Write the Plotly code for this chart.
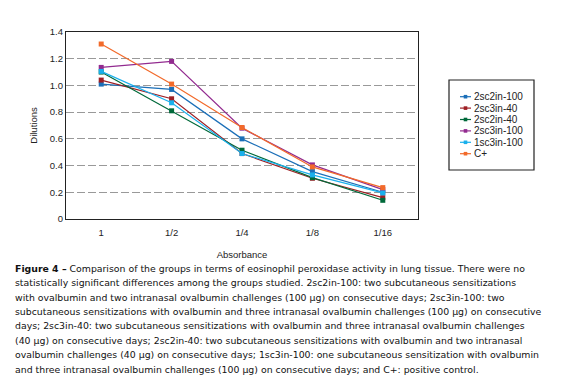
import plotly.graph_objects as go

categories = ["1", "1/2", "1/4", "1/8", "1/16"]
series_names = ["2sc2in-100", "2sc3in-40", "2sc2in-40", "2sc3in-100", "1sc3in-100", "C+"]
v_2sc2in_100 = [1.01, 0.97, 0.60, 0.355, 0.20]
v_2sc3in_40 = [1.04, 0.90, 0.49, 0.305, 0.16]
v_2sc2in_40 = [1.10, 0.81, 0.515, 0.31, 0.14]
v_2sc3in_100 = [1.135, 1.18, 0.68, 0.405, 0.22]
v_1sc3in_100 = [1.105, 0.87, 0.49, 0.33, 0.195]
v_cplus = [1.31, 1.01, 0.685, 0.39, 0.235]
series_values = [v_2sc2in_100, v_2sc3in_40, v_2sc2in_40, v_2sc3in_100, v_1sc3in_100, v_cplus]
colors = ["#1b6fb8", "#9e1f24", "#00693a", "#922a8f", "#1ab0ec", "#f26a2a"]
y_ticks = [0, 0.2, 0.4, 0.6, 0.8, 1.0, 1.2, 1.4]
y_tick_labels = ["0", "0.2", "0.4", "0.6", "0.8", "1.0", "1.2", "1.4"]

caption_lines = [
    "<b>Figure 4 –</b> Comparison of the groups in terms of eosinophil peroxidase activity in lung tissue. There were no",
    "statistically significant differences among the groups studied. 2sc2in-100: two subcutaneous sensitizations",
    "with ovalbumin and two intranasal ovalbumin challenges (100 µg) on consecutive days; 2sc3in-100: two",
    "subcutaneous sensitizations with ovalbumin and three intranasal ovalbumin challenges (100 µg) on consecutive",
    "days; 2sc3in-40: two subcutaneous sensitizations with ovalbumin and three intranasal ovalbumin challenges",
    "(40 µg) on consecutive days; 2sc2in-40: two subcutaneous sensitizations with ovalbumin and two intranasal",
    "ovalbumin challenges (40 µg) on consecutive days; 1sc3in-100: one subcutaneous sensitization with ovalbumin",
    "and three intranasal ovalbumin challenges (100 µg) on consecutive days; and C+: positive control.",
]

# page body has an 8px margin; figure placed so plot area sits at x 66-418, y 32-219
PL, PR, PT, PB = 66, 418, 32, 219
PW, PH = PR - PL, PB - PT

def px(x):
    return (x - PL) / PW

def py(y):
    return (PB - y) / PH

fig = go.Figure()
for name, vals, col in zip(series_names, series_values, colors):
    fig.add_trace(go.Scatter(
        x=categories, y=vals, name=name, mode="lines+markers",
        line=dict(color=col, width=1.2),
        marker=dict(symbol="square", size=5, color=col),
        showlegend=False,
    ))

font_family = "Liberation Sans, Arial, sans-serif"
cap_family = "DejaVu Sans, sans-serif"
fig.update_layout(
    width=561, height=380,
    margin=dict(l=PL - 8, r=561 - (PR - 8), t=PT - 8, b=380 - (PB - 8)),
    paper_bgcolor="white", plot_bgcolor="white",
    font=dict(family=font_family, size=10, color="#222"),
    showlegend=False,
    xaxis=dict(
        type="category", range=[-0.5, 4.5],
        showline=True, linecolor="#222", linewidth=1.2, mirror=True,
        showgrid=False, ticks="", ticklabelstandoff=4,
        title=dict(text="Absorbance", font=dict(size=9.5), standoff=14),
        tickfont=dict(size=9.5),
    ),
    yaxis=dict(
        range=[0, 1.4], tickvals=y_ticks, ticktext=y_tick_labels,
        showline=True, linecolor="#222", linewidth=1.2, mirror=True,
        showgrid=True, gridcolor="#999", griddash="8px,3px", gridwidth=1,
        zeroline=False, ticks="",
        title=dict(text="Dilutions", font=dict(size=9.5), standoff=10),
        tickfont=dict(size=9.5),
    ),
)

# legend box (drawn from series names and colours)
fig.add_shape(type="rect", xref="paper", yref="paper",
              x0=px(449), x1=px(534), y0=py(80), y1=py(170),
              line=dict(color="#222", width=1.2), fillcolor="white")
for i, (name, col) in enumerate(zip(series_names, colors)):
    yy = 96.7 + i * 11.4
    fig.add_shape(type="line", xref="paper", yref="paper",
                  x0=px(460), x1=px(471), y0=py(yy), y1=py(yy),
                  line=dict(color=col, width=1.2))
    fig.add_shape(type="rect", xref="paper", yref="paper",
                  x0=px(463.7), x1=px(467.3), y0=py(yy - 1.8), y1=py(yy + 1.8),
                  line=dict(color=col, width=0), fillcolor=col)
    fig.add_annotation(xref="paper", yref="paper", x=px(472), y=py(yy),
                       xanchor="left", yanchor="middle", text=name, showarrow=False,
                       font=dict(family=font_family, size=10, color="#222"))

for i, line in enumerate(caption_lines):
    fig.add_annotation(
        xref="paper", yref="paper", x=px(13), y=py(268.3 + i * 14.4),
        xanchor="left", yanchor="middle", text=line, showarrow=False,
        font=dict(family=cap_family, size=9.35, color="#111"), align="left",
    )

fig.write_html("out.html")
